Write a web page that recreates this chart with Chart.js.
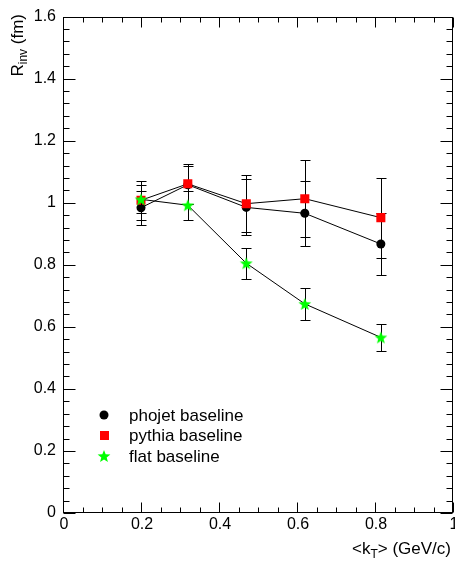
<!DOCTYPE html>
<html>
<head>
<meta charset="utf-8">
<script src="https://cdn.jsdelivr.net/npm/chart.js@4.4.0/dist/chart.umd.min.js"></script>
<style>
  body { margin: 0; background: #fff; }
  #wrap { width: 455px; height: 564px; }
</style>
</head>
<body>
<div id="wrap"><canvas id="myChart" width="455" height="564"></canvas></div>
<script>
// <kT> bins (GeV/c)
var kT = [0.2, 0.32, 0.47, 0.62, 0.815];

// Rinv (fm) and errors for each baseline
var phojetR = [0.984, 1.058, 0.985, 0.966, 0.867];
var phojetErr = [0.055, 0.062, 0.09, 0.104, 0.1];
var pythiaR = [1.008, 1.061, 0.997, 1.013, 0.952];
var pythiaErr = [0.062, 0.064, 0.092, 0.124, 0.129];
var flatR = [1.011, 0.992, 0.805, 0.674, 0.566];
var flatErr = [0.045, 0.047, 0.05, 0.051, 0.044];

var seriesNames = ['phojet baseline', 'pythia baseline', 'flat baseline'];

var FONT = '"Liberation Sans", Arial, Helvetica, sans-serif';

// filled five point star, like ROOT marker 29
function makeStar(size, color) {
  var c = document.createElement('canvas');
  c.width = size;
  c.height = size;
  var g = c.getContext('2d');
  var outer = size / 2 - 0.3, inner = outer * 0.42;
  g.fillStyle = color;
  g.beginPath();
  for (var i = 0; i < 10; i++) {
    var r = (i % 2) ? inner : outer;
    var a = -Math.PI / 2 + i * Math.PI / 5;
    var px = size / 2 + r * Math.cos(a), py = size / 2 + 0.6 + r * Math.sin(a);
    if (i === 0) g.moveTo(px, py); else g.lineTo(px, py);
  }
  g.closePath();
  g.fill();
  return c;
}
var starImg = makeStar(14, '#00ff00');

function toPoints(ys) {
  return kT.map(function (x, i) { return { x: x, y: ys[i] }; });
}

// ROOT style labels: 0, 0.2, ..., 1, 1.2
function rootLabel(v) {
  return String(Number(v.toFixed(2)));
}

var errors = [phojetErr, pythiaErr, flatErr];

// error bars, drawn just before each graph so markers sit on top
var errorBars = {
  id: 'errorBars',
  beforeDatasetDraw: function (chart, args) {
    var ctx = chart.ctx;
    var xs = chart.scales.x, ys = chart.scales.y;
    var errs = errors[args.index];
    var vals = chart.data.datasets[args.index].data;
    ctx.save();
    ctx.strokeStyle = '#000';
    ctx.lineWidth = 1;
    vals.forEach(function (p, i) {
      var x = Math.round(xs.getPixelForValue(p.x)) + 0.5;
      var y1 = Math.round(ys.getPixelForValue(p.y + errs[i])) + 0.5;
      var y2 = Math.round(ys.getPixelForValue(p.y - errs[i])) + 0.5;
      ctx.beginPath();
      ctx.moveTo(x, y1); ctx.lineTo(x, y2);
      ctx.moveTo(x - 5, y1); ctx.lineTo(x + 5, y1);
      ctx.moveTo(x - 5, y2); ctx.lineTo(x + 5, y2);
      ctx.stroke();
    });
    ctx.restore();
  }
};

// frame, inside ticks, x labels, axis titles and legend in ROOT style
var rootFrame = {
  id: 'rootFrame',
  afterDraw: function (chart) {
    var ctx = chart.ctx;
    var a = chart.chartArea;
    var xs = chart.scales.x, ys = chart.scales.y;
    ctx.save();
    ctx.strokeStyle = '#000';
    ctx.lineWidth = 1;
    var L = Math.round(a.left) + 0.5, R = Math.round(a.right) - 0.5;
    var T = Math.round(a.top) + 0.5, B = Math.round(a.bottom) - 0.5;
    ctx.strokeRect(L, T, R - L, B - T);

    ctx.beginPath();
    var i, v, p, len;
    for (i = 0; i <= 20; i++) {
      v = i * 0.05;
      p = Math.round(xs.getPixelForValue(v)) + 0.5;
      len = (i % 4 === 0) ? 10 : 5;
      ctx.moveTo(p, B); ctx.lineTo(p, B - len);
      ctx.moveTo(p, T); ctx.lineTo(p, T + len);
    }
    for (i = 0; i <= 40; i++) {
      v = i * 0.04;
      p = Math.round(ys.getPixelForValue(v)) + 0.5;
      len = (i % 5 === 0) ? 12 : 6;
      ctx.moveTo(L, p); ctx.lineTo(L + len, p);
      ctx.moveTo(R, p); ctx.lineTo(R - len, p);
    }
    ctx.stroke();

    ctx.fillStyle = '#000';
    ctx.textBaseline = 'alphabetic';

    // x tick labels from the scale's own ticks
    ctx.font = '16px ' + FONT;
    ctx.textAlign = 'center';
    xs.ticks.forEach(function (t) {
      ctx.fillText(rootLabel(t.value), xs.getPixelForValue(t.value) + 1, 529);
    });

    // y title: R_inv (fm), rotated, right aligned at the top
    ctx.textAlign = 'left';
    var big = '17px ' + FONT, small = '12px ' + FONT;
    ctx.font = big; var w1 = ctx.measureText('R').width, w3 = ctx.measureText(' (fm)').width;
    ctx.font = small; var w2 = ctx.measureText('inv').width;
    ctx.save();
    ctx.translate(23, 14 + w1 + w2 + w3);
    ctx.rotate(-Math.PI / 2);
    ctx.font = big; ctx.fillText('R', 0, 0);
    ctx.font = small; ctx.fillText('inv', w1, 4);
    ctx.font = big; ctx.fillText(' (fm)', w1 + w2, 0);
    ctx.restore();

    // x title: <k_T> (GeV/c), right aligned
    ctx.font = big; var a1 = ctx.measureText('<k').width, a3 = ctx.measureText('> (GeV/c)').width;
    ctx.font = small; var a2 = ctx.measureText('T').width;
    var x0 = 451 - a1 - a2 - a3, yb = 554;
    ctx.font = big; ctx.fillText('<k', x0, yb);
    ctx.font = small; ctx.fillText('T', x0 + a1, yb + 4);
    ctx.font = big; ctx.fillText('> (GeV/c)', x0 + a1 + a2, yb);

    // legend
    var rows = [415, 435, 456];
    ctx.font = '17px ' + FONT;
    ctx.textBaseline = 'middle';
    seriesNames.forEach(function (name, k) {
      ctx.fillText(name, 129, rows[k] + 1);
    });
    ctx.fillStyle = '#000';
    ctx.beginPath(); ctx.arc(104, rows[0], 4.5, 0, Math.PI * 2); ctx.fill();
    ctx.fillStyle = '#ff0000';
    ctx.fillRect(100, rows[1] - 4, 9, 9);
    ctx.drawImage(starImg, 104 - 7, rows[2] - 7);
    ctx.restore();
  }
};

var ctx = document.getElementById('myChart').getContext('2d');

var myChart = new Chart(ctx, {
  type: 'scatter',
  data: {
    datasets: [{
      label: seriesNames[0],
      data: toPoints(phojetR),
      showLine: true,
      borderColor: '#000',
      borderWidth: 1,
      pointStyle: 'circle',
      pointRadius: 4.5,
      pointBackgroundColor: '#000',
      pointBorderWidth: 0,
      order: 3
    }, {
      label: seriesNames[1],
      data: toPoints(pythiaR),
      showLine: true,
      borderColor: '#000',
      borderWidth: 1,
      pointStyle: 'rect',
      pointRadius: 6.4,
      pointBackgroundColor: '#ff0000',
      pointBorderWidth: 0,
      order: 2
    }, {
      label: seriesNames[2],
      data: toPoints(flatR),
      showLine: true,
      borderColor: '#000',
      borderWidth: 1,
      pointStyle: starImg,
      pointBackgroundColor: '#00ff00',
      order: 1
    }]
  },
  options: {
    responsive: false,
    animation: false,
    devicePixelRatio: 1,
    layout: {
      autoPadding: false,
      padding: { top: 15, right: 2, left: 0, bottom: 0 }
    },
    plugins: {
      legend: { display: false },
      tooltip: { enabled: false }
    },
    scales: {
      x: {
        type: 'linear',
        min: 0,
        max: 1,
        grid: { display: false, drawTicks: false },
        border: { display: false },
        ticks: {
          stepSize: 0.2,
          display: false
        },
        afterFit: function (s) { s.height = 51; }
      },
      y: {
        min: 0,
        max: 1.6,
        grid: { display: false, drawTicks: false },
        border: { display: false },
        ticks: {
          stepSize: 0.2,
          autoSkip: false,
          padding: 7,
          color: '#000',
          font: { family: FONT, size: 16 },
          callback: rootLabel
        },
        afterFit: function (s) { s.width = 63; }
      }
    }
  },
  plugins: [errorBars, rootFrame]
});
</script>
</body>
</html>
